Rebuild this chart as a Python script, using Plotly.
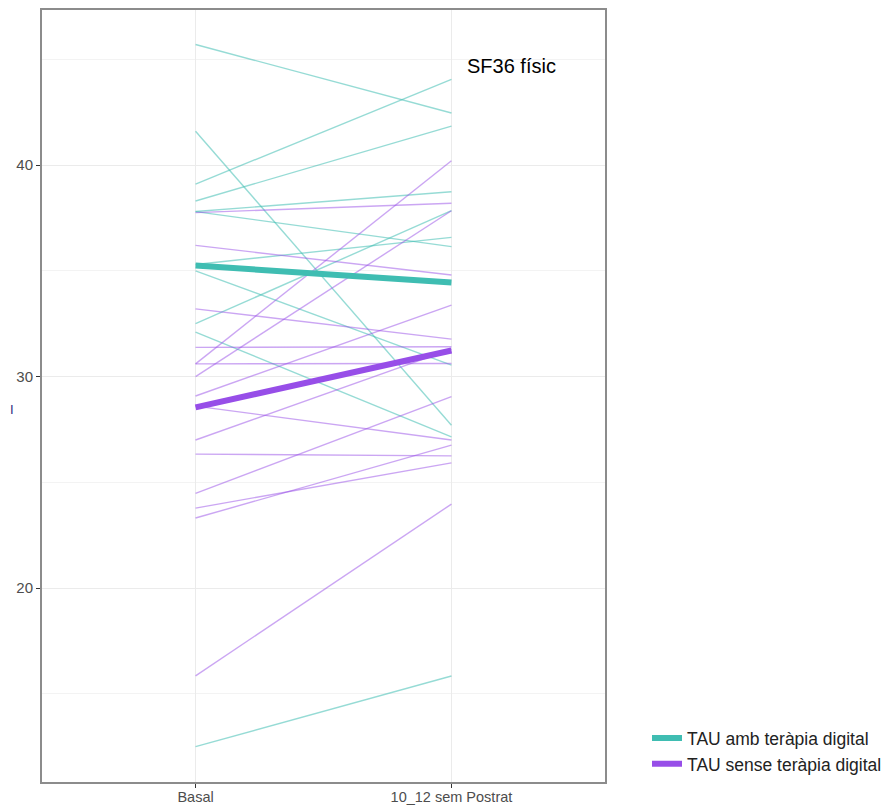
import plotly.graph_objects as go

# Time points on the x axis
timepoints = ["Basal", "10_12 sem Postrat"]
x_pos = [1, 2]

# SF36 physical score per participant: TAU + digital therapy
amb_basal = [45.7, 41.6, 39.1, 38.3, 37.8, 37.8, 35.3, 35.0, 32.5, 32.1, 12.5]
amb_post = [42.46, 27.7, 44.05, 41.84, 38.74, 36.14, 36.58, 30.54, 37.84, 27.15, 15.84]

# SF36 physical score per participant: TAU without digital therapy
sense_basal = [37.75, 36.2, 33.2, 31.38, 30.6, 30.6, 30.0, 29.08, 28.6, 27.0, 26.33,
               24.48, 23.78, 23.31, 15.85]
sense_post = [38.19, 34.8, 31.77, 31.41, 30.62, 40.2, 37.84, 33.38, 27.0, 31.3, 26.25,
              29.05, 25.92, 26.76, 23.97]

group_names = ["TAU amb teràpia digital", "TAU sense teràpia digital"]
y_ticks = [20, 30, 40]
y_minor = [15, 25, 35, 45]

TEAL = "#3FBDB2"
PURPLE = "#974EE8"
TEAL_THIN = "rgba(63,189,178,0.55)"
PURPLE_THIN = "rgba(151,78,232,0.50)"
FONT = "Liberation Sans, Arial, sans-serif"


def spaghetti(basal, post):
    xs, ys = [], []
    for b, p in zip(basal, post):
        xs += [x_pos[0], x_pos[1], None]
        ys += [b, p, None]
    return xs, ys


def mean(vals):
    return sum(vals) / len(vals)


fig = go.Figure()

for basal, post, col in [(amb_basal, amb_post, TEAL_THIN),
                         (sense_basal, sense_post, PURPLE_THIN)]:
    xs, ys = spaghetti(basal, post)
    fig.add_trace(go.Scatter(x=xs, y=ys, mode="lines",
                             line=dict(color=col, width=1.4),
                             showlegend=False, hoverinfo="skip"))

for name, basal, post, col in [(group_names[0], amb_basal, amb_post, TEAL),
                               (group_names[1], sense_basal, sense_post, PURPLE)]:
    fig.add_trace(go.Scatter(x=x_pos, y=[mean(basal), mean(post)], mode="lines",
                             name=name, line=dict(color=col, width=6)))

fig.update_layout(
    width=885, height=805,
    margin=dict(l=42, r=280, t=10, b=23, autoexpand=False),
    paper_bgcolor="white", plot_bgcolor="white",
    font=dict(family=FONT),
    legend=dict(x=1.0746, y=0.040, xanchor="left", yanchor="middle",
                font=dict(size=17.5, color="#222222", family=FONT),
                itemwidth=30, bgcolor="rgba(0,0,0,0)", tracegroupgap=0),
    xaxis=dict(range=[0.4, 2.6], tickvals=x_pos, ticktext=timepoints,
               automargin=False,
               showgrid=True, gridcolor="#ebebeb", gridwidth=1, zeroline=False,
               showline=True, linecolor="#8c8c8c", linewidth=2, mirror=True,
               ticks="outside", ticklen=4, tickcolor="#333333",
               ticklabelstandoff=-3,
               tickfont=dict(size=14.5, color="#4d4d4d")),
    yaxis=dict(range=[10.83, 47.33], tickvals=y_ticks, automargin=False,
               showgrid=True, gridcolor="#ebebeb", gridwidth=1, zeroline=False,
               showline=True, linecolor="#8c8c8c", linewidth=2, mirror=True,
               ticks="outside", ticklen=4, tickcolor="#333333",
               tickfont=dict(size=15, color="#4d4d4d"),
               minor=dict(tickvals=y_minor, showgrid=True, gridcolor="#f3f3f3",
                          ticks="")),
    shapes=[dict(type="rect", xref="paper", yref="paper", layer="between",
                 x0=0.7265, x1=0.9734, y0=0.803, y1=0.9676,
                 fillcolor="white", line=dict(width=0))],
    annotations=[
        dict(text="SF36 físic", xref="paper", yref="paper", x=0.752, y=0.9275,
             xanchor="left", yanchor="middle", showarrow=False,
             font=dict(size=20, color="black", family=FONT)),
        dict(text="I", xref="paper", yref="paper", x=-0.0533, y=0.4819,
             xanchor="center", yanchor="middle", showarrow=False,
             font=dict(size=13, color="#2a2a80", family=FONT)),
    ],
)

fig.write_html("out.html")
